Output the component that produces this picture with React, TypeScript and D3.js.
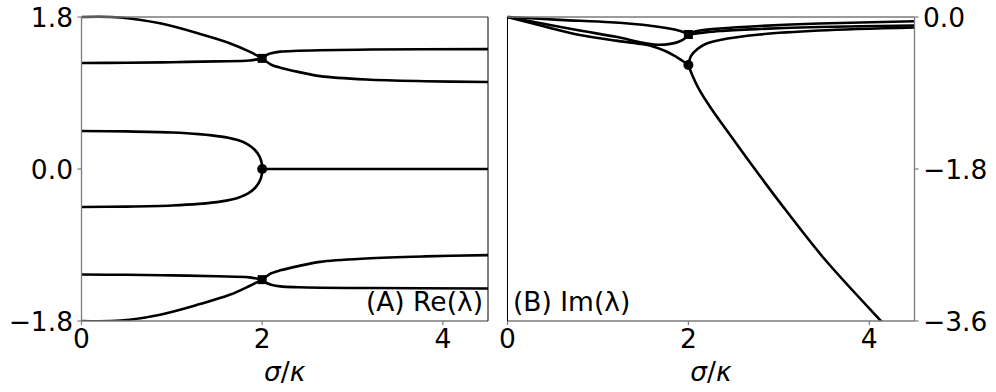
import React from 'react';
import * as d3 from 'd3';

type Pt = [number, number];

// tick values
const xTicks = [0, 2, 4];
const reTicks = [-1.8, 0, 1.8];
const imTicks = [0, -1.8, -3.6];

// Re(λ) branches, [σ/κ, value]
const reTop: Pt[] = [[0, 1.8], [0.43, 1.795], [0.87, 1.725], [1.31, 1.6], [1.64, 1.49], [1.86, 1.39], [2.0, 1.31]];
const reSecond: Pt[] = [[0, 1.255], [0.5, 1.258], [1.0, 1.265], [1.5, 1.275], [1.86, 1.285], [2.0, 1.31]];
const reUpperAfter: Pt[] = [[2.0, 1.31], [2.05, 1.35], [2.1, 1.37], [2.2, 1.39], [2.4, 1.4], [3.2, 1.415], [4.5, 1.42]];
const reLowerAfter: Pt[] = [[2.0, 1.31], [2.05, 1.27], [2.1, 1.235], [2.2, 1.2], [2.4, 1.15], [2.64, 1.1], [3.15, 1.06], [3.8, 1.04], [4.5, 1.03]];
const reMidUpper: Pt[] = [[0, 0.45], [0.5, 0.445], [1.0, 0.432], [1.3, 0.413], [1.55, 0.383], [1.72, 0.345], [1.84, 0.293], [1.92, 0.225], [1.97, 0.15], [1.995, 0.07], [2.0, 0]];
const reMidLower: Pt[] = [[0, -0.45], [0.5, -0.445], [1.0, -0.432], [1.3, -0.413], [1.55, -0.383], [1.72, -0.345], [1.84, -0.293], [1.92, -0.225], [1.97, -0.15], [1.995, -0.07], [2.0, 0]];
const reZero: Pt[] = [[2.0, 0], [4.5, 0]];
const reBottom: Pt[] = [[0, -1.8], [0.43, -1.795], [0.87, -1.725], [1.31, -1.6], [1.64, -1.49], [1.86, -1.385], [2.0, -1.31]];
const reSecondLow: Pt[] = [[0, -1.25], [0.5, -1.253], [1.0, -1.26], [1.5, -1.27], [1.86, -1.283], [2.0, -1.31]];
const reLowUpperAfter: Pt[] = [[2.0, -1.31], [2.05, -1.27], [2.1, -1.235], [2.2, -1.2], [2.4, -1.15], [2.64, -1.1], [3.15, -1.06], [3.8, -1.035], [4.5, -1.02]];
const reLowLowerAfter: Pt[] = [[2.0, -1.31], [2.05, -1.35], [2.1, -1.37], [2.2, -1.39], [2.4, -1.4], [3.2, -1.41], [4.5, -1.415]];
const reSquares: Pt[] = [[2.0, 1.31], [2.0, -1.31]];
const reCircles: Pt[] = [[2.0, 0]];

// Im(λ) branches
const imLensTop: Pt[] = [[0, 0], [0.58, -0.034], [1.14, -0.062], [1.58, -0.103], [1.86, -0.152], [1.95, -0.18], [2.0, -0.207]];
const imLensBottom: Pt[] = [[0, 0], [0.4, -0.08], [0.8, -0.16], [1.2, -0.235], [1.5, -0.305], [1.65, -0.328], [1.8, -0.318], [1.9, -0.29], [1.97, -0.245], [2.0, -0.207]];
const imToCircle: Pt[] = [[0, 0], [0.4, -0.11], [0.8, -0.212], [1.2, -0.28], [1.45, -0.315], [1.6, -0.345], [1.75, -0.405], [1.87, -0.475], [1.95, -0.53], [2.0, -0.568]];
const imSqUpper: Pt[] = [[2.0, -0.207], [2.05, -0.18], [2.13, -0.16], [2.35, -0.136], [2.79, -0.107], [3.45, -0.077], [4.5, -0.051]];
const imSqLower: Pt[] = [[2.0, -0.207], [2.05, -0.2], [2.13, -0.19], [2.35, -0.166], [2.79, -0.142], [3.45, -0.118], [4.5, -0.1]];
const imCircUpper: Pt[] = [[2.0, -0.568], [2.03, -0.46], [2.1, -0.38], [2.19, -0.32], [2.35, -0.272], [2.79, -0.207], [3.45, -0.16], [4.5, -0.124]];
const imDive: Pt[] = [[2.0, -0.568], [2.04, -0.68], [2.12, -0.86], [2.25, -1.08], [2.45, -1.38], [2.7, -1.75], [3.0, -2.18], [3.5, -2.86], [4.13, -3.6], [4.2, -3.68]];
const imSquares: Pt[] = [[2.0, -0.207]];
const imCircles: Pt[] = [[2.0, -0.568]];

const FONT = "'DejaVu Sans', sans-serif";
const TOP = 17;
const BOTTOM = 321;
const OUTER = '#7a7a7a';

function Panel(props: {
  id: string; left: number; right: number; yDomain: [number, number]; ticks: number[];
  side: 'left' | 'right'; curves: Pt[][]; squares: Pt[]; circles: Pt[];
  label: string; labelAnchor: 'start' | 'end';
}) {
  const { id, left, right, yDomain, ticks, side, curves, squares, circles, label, labelAnchor } = props;
  const x = d3.scaleLinear().domain([0, 4.5]).range([left, right]);
  const y = d3.scaleLinear().domain(yDomain).range([BOTTOM, TOP]);
  const line = d3.line<Pt>().x(d => x(d[0])).y(d => y(d[1])).curve(d3.curveCatmullRom.alpha(0.5));
  const fmt = d3.format('.1f');
  const axisX = side === 'left' ? left : right;
  const innerX = side === 'left' ? right : left;

  return (
    <g>
      <defs>
        <clipPath id={id}>
          <rect x={left} y={TOP - 2} width={right - left} height={BOTTOM - TOP + 2} />
        </clipPath>
      </defs>
      <g clipPath={`url(#${id})`}>
        {curves.map((c, i) => (
          <path key={i} d={line(c) || ''} fill="none" stroke="#000" strokeWidth={2.6} strokeLinejoin="round" />
        ))}
      </g>
      {squares.map((d, i) => (
        <rect key={i} x={x(d[0]) - 4.5} y={y(d[1]) - 4.5} width={9} height={9} fill="#000" />
      ))}
      {circles.map((d, i) => (
        <circle key={i} cx={x(d[0])} cy={y(d[1])} r={5} fill="#000" />
      ))}

      {/* spines */}
      <line x1={left} x2={right} y1={TOP} y2={TOP} stroke={OUTER} strokeWidth={1.3} />
      <line x1={left} x2={right} y1={BOTTOM} y2={BOTTOM} stroke={OUTER} strokeWidth={1.3} />
      <line x1={axisX} x2={axisX} y1={TOP} y2={BOTTOM} stroke={OUTER} strokeWidth={1.3} />
      <line x1={innerX} x2={innerX} y1={TOP} y2={BOTTOM} stroke="#000" strokeWidth={1} />

      {/* y ticks */}
      {ticks.map(t => (
        <g key={t}>
          <line x1={axisX} x2={side === 'left' ? axisX - 4 : axisX + 4} y1={y(t)} y2={y(t)} stroke={OUTER} strokeWidth={1.2} />
          <text x={side === 'left' ? axisX - 8.5 : axisX + 8.5} y={y(t)} dy="0.36em"
            textAnchor={side === 'left' ? 'end' : 'start'} fontFamily={FONT} fontSize={26.5}>{fmt(t)}</text>
        </g>
      ))}

      {/* x ticks */}
      {xTicks.map(t => (
        <g key={t}>
          <line x1={x(t)} x2={x(t)} y1={BOTTOM} y2={BOTTOM + 4} stroke={OUTER} strokeWidth={1.2} />
          <text x={x(t)} y={348} textAnchor="middle" fontFamily={FONT} fontSize={26.5}>{t}</text>
        </g>
      ))}

      <text x={(left + right) / 2} y={381} textAnchor="middle" fontFamily={FONT} fontSize={26.5}>
        <tspan fontStyle="italic">σ</tspan>/<tspan fontStyle="italic">κ</tspan>
      </text>
      <text x={labelAnchor === 'end' ? right - 5 : left + 5.5} y={311} textAnchor={labelAnchor}
        fontFamily={FONT} fontSize={26.5}>{label}</text>
    </g>
  );
}

export default function App() {
  return (
    <svg width={996} height={392} style={{ position: 'absolute', left: 0, top: 0, background: '#fff' }}>
      <Panel id="clipA" left={81.5} right={488} yDomain={[-1.8, 1.8]} ticks={reTicks} side="left"
        curves={[reTop, reSecond, reUpperAfter, reLowerAfter, reMidUpper, reMidLower, reZero, reBottom, reSecondLow, reLowUpperAfter, reLowLowerAfter]}
        squares={reSquares} circles={reCircles} label="(A) Re(λ)" labelAnchor="end" />
      <Panel id="clipB" left={507.5} right={914.5} yDomain={[-3.6, 0]} ticks={imTicks} side="right"
        curves={[imLensTop, imLensBottom, imToCircle, imSqUpper, imSqLower, imCircUpper, imDive]}
        squares={imSquares} circles={imCircles} label="(B) Im(λ)" labelAnchor="start" />
    </svg>
  );
}
